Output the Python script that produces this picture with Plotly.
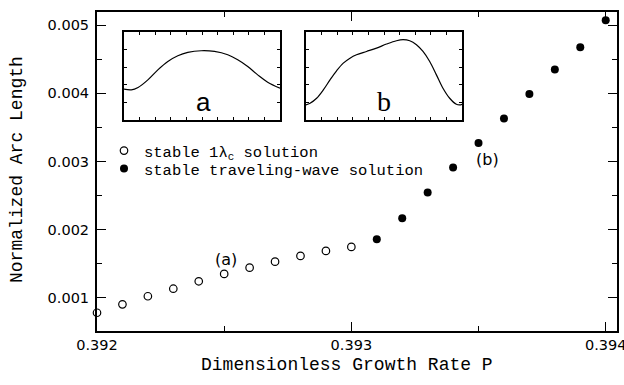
import plotly.graph_objects as go

# Arc length vs. growth rate: stable 1-lambda_c branch and traveling-wave branch
p_single = [0.3920, 0.3921, 0.3922, 0.3923, 0.3924, 0.3925,
            0.3926, 0.3927, 0.3928, 0.3929, 0.3930]
arc_single = [0.000779, 0.000903, 0.001021, 0.001132, 0.001241, 0.001349,
              0.001441, 0.001529, 0.001613, 0.001687, 0.001746]

p_wave = [0.3931, 0.3932, 0.3933, 0.3934, 0.3935,
          0.3936, 0.3937, 0.3938, 0.3939, 0.3940]
arc_wave = [0.001859, 0.002168, 0.002544, 0.002912, 0.003271,
            0.003632, 0.003991, 0.004349, 0.004676, 0.005074]

# Interface shapes (normalized position, normalized height)
shape_a_x = [0.0, 0.047, 0.090, 0.153, 0.217, 0.281, 0.345, 0.409, 0.495,
             0.580, 0.665, 0.729, 0.793, 0.857, 0.921, 1.0]
shape_a_y = [0.350, 0.342, 0.369, 0.456, 0.570, 0.665, 0.730, 0.768, 0.787,
             0.779, 0.741, 0.684, 0.608, 0.513, 0.430, 0.361]

shape_b_x = [0.0, 0.026, 0.068, 0.111, 0.154, 0.196, 0.239, 0.282, 0.324,
             0.388, 0.452, 0.516, 0.580, 0.622, 0.665, 0.708, 0.750, 0.793,
             0.836, 0.878, 0.921, 0.964, 0.985, 1.0]
shape_b_y = [0.171, 0.190, 0.247, 0.342, 0.456, 0.559, 0.646, 0.703, 0.741,
             0.779, 0.817, 0.863, 0.901, 0.913, 0.901, 0.856, 0.779, 0.665,
             0.513, 0.361, 0.247, 0.179, 0.171, 0.179]

x_ticks = [0.392, 0.393, 0.394]
y_ticks = [0.001, 0.002, 0.003, 0.004, 0.005]

W, H = 624, 385
ML, MR, MT, MB = 97, 7, 12, 54
PW, PH = W - ML - MR, H - MT - MB


def fx(px):
    return (px - ML) / PW


def fy(py):
    return (H - MB - py) / PH


mono = "Liberation Mono"
sans = "DejaVu Sans"

fig = go.Figure()

fig.add_trace(go.Scatter(
    x=p_single, y=arc_single, mode="markers", cliponaxis=False,
    name="stable 1λ<sub>c</sub> solution", legend="legend",
    marker=dict(symbol="circle-open", size=7.5, color="black",
                line=dict(width=1.2, color="black")),
))
fig.add_trace(go.Scatter(
    x=p_wave, y=arc_wave, mode="markers", cliponaxis=False,
    name="stable traveling-wave solution", legend="legend2",
    marker=dict(symbol="circle", size=8, color="black"),
))

fig.add_trace(go.Scatter(x=shape_a_x, y=shape_a_y, mode="lines",
                         line=dict(color="black", width=1.2, shape="spline"),
                         xaxis="x2", yaxis="y2", showlegend=False))
fig.add_trace(go.Scatter(x=shape_b_x, y=shape_b_y, mode="lines",
                         line=dict(color="black", width=1.2, shape="spline"),
                         xaxis="x3", yaxis="y3", showlegend=False))

main_axis = dict(
    showline=True, linewidth=2, linecolor="black", mirror="ticks",
    ticks="inside", ticklen=9, tickwidth=1.3, tickcolor="black",
    showgrid=False, zeroline=False, tickformat=".3f",
    ticklabeloverflow="allow", automargin=False,
    tickfont=dict(family=sans, size=14.5, color="black"),
    minor=dict(ticks="inside", ticklen=5, tickwidth=1.3, tickcolor="black",
               dtick=0.0005, showgrid=False),
)

inset_axis = dict(
    range=[0, 1], showline=True, linewidth=1.5, linecolor="black",
    mirror="ticks", ticks="inside", ticklen=3, tickwidth=0.8,
    tickcolor="black", showticklabels=False, showgrid=False, zeroline=False,
)

legend_style = dict(xanchor="left", yanchor="top",
                    bgcolor="rgba(0,0,0,0)", borderwidth=0,
                    font=dict(family=mono, size=15.5, color="black"),
                    itemsizing="trace")

fig.update_layout(
    width=W, height=H,
    margin=dict(l=ML, r=MR, t=MT, b=MB, autoexpand=False),
    paper_bgcolor="white", plot_bgcolor="white",
    xaxis=dict(main_axis, range=[0.392, 0.3940444], tickvals=x_ticks,
               ticklabelstandoff=0),
    yaxis=dict(main_axis, range=[0.000511, 0.005195], tickvals=y_ticks,
               ticklabelstandoff=3),
    xaxis2=dict(inset_axis, domain=[fx(124), fx(280)], anchor="y2", dtick=0.1),
    yaxis2=dict(inset_axis, domain=[fy(120), fy(32)], anchor="x2", dtick=0.2),
    xaxis3=dict(inset_axis, domain=[fx(306), fx(462)], anchor="y3", dtick=0.1),
    yaxis3=dict(inset_axis, domain=[fy(120), fy(32)], anchor="x3", dtick=0.2),
    legend=dict(legend_style, x=fx(104), y=fy(134)),
    legend2=dict(legend_style, x=fx(104), y=fy(152)),
    showlegend=True,
)

annotations = [
    dict(text="Dimensionless Growth Rate P", x=fx(346.5), y=fy(365),
         font=dict(family=mono, size=18, color="black")),
    dict(text="Normalized Arc Length", x=fx(17), y=fy(170), textangle=-90,
         font=dict(family=mono, size=18, color="black")),
    dict(text="(a)", x=fx(225.7), y=fy(259),
         font=dict(family=sans, size=16, color="black")),
    dict(text="(b)", x=fx(487), y=fy(159),
         font=dict(family=sans, size=16, color="black")),
    dict(text="a", x=fx(203), y=fy(102),
         font=dict(family="Liberation Sans", size=26, color="black")),
    dict(text="b", x=fx(384), y=fy(101),
         font=dict(family="Liberation Serif", size=28, color="black")),
]
for a in annotations:
    a.update(xref="paper", yref="paper", showarrow=False,
             xanchor="center", yanchor="middle")
fig.update_layout(annotations=annotations)

fig.write_html("out.html")
